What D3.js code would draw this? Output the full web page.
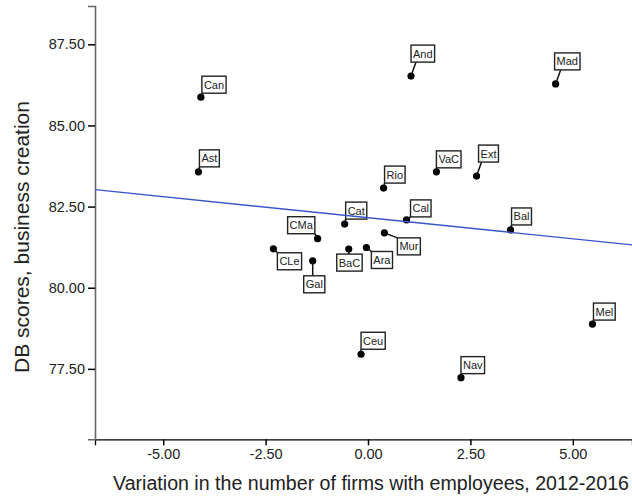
<!DOCTYPE html>
<html>
<head>
<meta charset="utf-8">
<script src="https://cdn.jsdelivr.net/npm/d3@7"></script>
<style>
  html, body { margin: 0; padding: 0; background: #fff; }
  svg { display: block; font-family: "Liberation Sans", Arial, sans-serif; }
</style>
</head>
<body>
<svg id="chart" width="632" height="502"></svg>
<script>
// ---- data ----
const regions = ["Can","And","Mad","Ast","Rio","VaC","Ext","Cat","CMa","CLe","Gal","BaC","Ara","Mur","Cal","Bal","Ceu","Nav","Mel"];
const firmVariation = [-4.08, 1.05, 4.58, -4.14, 0.38, 1.67, 2.65, -0.57, -1.23, -2.31, -1.35, -0.47, -0.04, 0.40, 0.94, 3.48, -0.17, 2.27, 5.48];
const dbScores = [85.87, 86.52, 86.28, 83.57, 83.07, 83.57, 83.44, 81.96, 81.51, 81.20, 80.83, 81.19, 81.24, 81.69, 82.09, 81.78, 77.95, 77.23, 78.88];
const xTicks = [-5, -2.5, 0, 2.5, 5];
const yTicks = [77.5, 80, 82.5, 85, 87.5];
const xTitle = "Variation in the number of firms with employees, 2012-2016";
const yTitle = "DB scores, business creation";

// ---- layout (label box offsets relative to point, px) ----
const labelPos = {
  Can:[1,-21], And:[0,-31], Mad:[-1,-31], Ast:[1,-22], Rio:[1,-22], VaC:[0,-21],
  Ext:[2,-31], Cat:[1,-22], CMa:[-30,-22], CLe:[4,4], Gal:[-9,15], BaC:[-12,5],
  Ara:[5,4], Mur:[13,5], Cal:[4,-20], Bal:[1,-22], Ceu:[0,-22], Nav:[0,-21], Mel:[1,-21]
};

const svg = d3.select("#chart");
const pLeft = 95, pRight = 632, pTop = 6, pBottom = 439.3;

const x = d3.scaleLinear().domain([-6.665, 6.445]).range([pLeft, pRight]);
const y = d3.scaleLinear().domain([75.33, 88.68]).range([pBottom, pTop]);
const fmt = v => d3.format(".2f")(v).replace("\u2212", "-");

// axes
const xAxis = svg.append("g").attr("transform", `translate(0,${pBottom})`)
  .call(d3.axisBottom(x).tickValues(xTicks).tickFormat(fmt).tickSizeOuter(0).tickSize(6).tickPadding(3));
xAxis.select(".domain").attr("stroke", "#000").attr("stroke-width", 1.3);
xAxis.selectAll(".tick line").attr("stroke", "#000").attr("stroke-width", 1.5);
xAxis.selectAll(".tick text").attr("font-size", 14.5).attr("fill", "#222").attr("font-family", "Liberation Sans, Arial, sans-serif");

const yAxis = svg.append("g").attr("transform", `translate(${pLeft},0)`)
  .call(d3.axisLeft(y).tickValues(yTicks).tickFormat(fmt).tickSizeOuter(0).tickSize(7).tickPadding(3));
yAxis.select(".domain").attr("stroke", "#666").attr("stroke-width", 1.6);
yAxis.selectAll(".tick line").attr("stroke", "#000").attr("stroke-width", 1.5);
yAxis.selectAll(".tick text").attr("font-size", 14.5).attr("fill", "#222").attr("font-family", "Liberation Sans, Arial, sans-serif");

// titles
svg.append("text").attr("x", 371).attr("y", 490)
  .attr("text-anchor", "middle").attr("font-size", 19.6).attr("fill", "#222").text(xTitle);
svg.append("text").attr("transform", `translate(29,237) rotate(-90)`)
  .attr("text-anchor", "middle").attr("font-size", 21).attr("fill", "#222").text(yTitle);

// points
const pts = regions.map((r, i) => ({ name: r, vx: firmVariation[i], vy: dbScores[i] }));
svg.append("g").selectAll("circle").data(pts).join("circle")
  .attr("cx", d => x(d.vx)).attr("cy", d => y(d.vy)).attr("r", 3.6).attr("fill", "#000");

// labels
const lg = svg.append("g");
pts.forEach(d => {
  const px = x(d.vx), py = y(d.vy);
  const [dx, dy] = labelPos[d.name];
  const g = lg.append("g");
  const t = g.append("text").attr("font-size", 11).attr("fill", "#222").text(d.name);
  const w = t.node().getComputedTextLength() + 4, h = 17;
  const bx = px + dx, by = py + dy;
  const tx = dy < -25 ? px + 5 : px;
  const nx = Math.max(bx, Math.min(tx, bx + w)), ny = Math.max(by, Math.min(py, by + h));
  g.insert("line", "text").attr("x1", px).attr("y1", py).attr("x2", nx).attr("y2", ny)
    .attr("stroke", "#111").attr("stroke-width", 1.5);
  g.insert("rect", "text").attr("x", bx).attr("y", by).attr("width", w).attr("height", h)
    .attr("fill", "#fff").attr("stroke", "#222").attr("stroke-width", 1.4);
  t.attr("x", bx + 2).attr("y", by + h / 2 + 4);
});

// regression line (OLS fit of the plotted data)
const mx = d3.mean(firmVariation), my = d3.mean(dbScores);
let sxy = 0, sxx = 0;
firmVariation.forEach((v, i) => { sxy += (v - mx) * (dbScores[i] - my); sxx += (v - mx) ** 2; });
const slope = sxy / sxx, icpt = my - slope * mx;
const xd = x.domain();
svg.append("line")
  .attr("x1", x(xd[0])).attr("y1", y(icpt + slope * xd[0]))
  .attr("x2", x(xd[1])).attr("y2", y(icpt + slope * xd[1]))
  .attr("stroke", "#3a55c8").attr("stroke-width", 1.4);
</script>
</body>
</html>
